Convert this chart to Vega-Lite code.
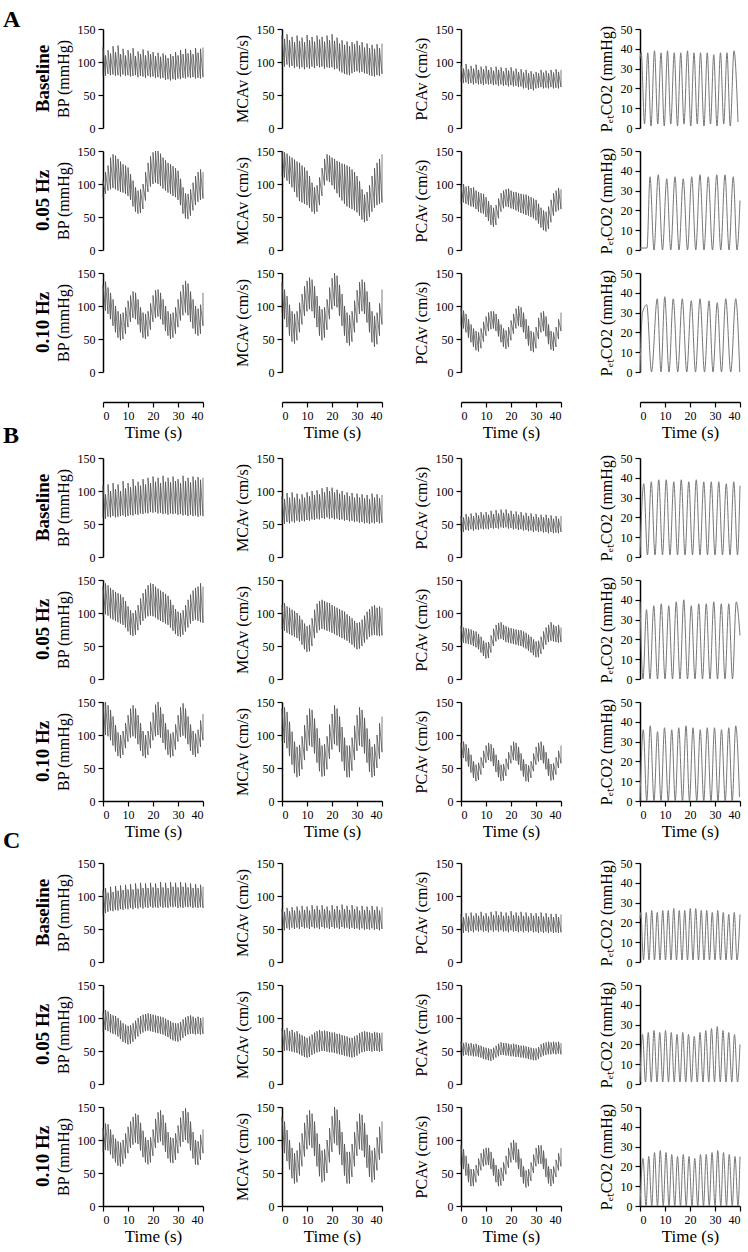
{
"$schema":"https://vega.github.io/schema/vega-lite/v6.json",
"padding":{"left":3,"top":0,"right":5,"bottom":5},
"background":"white",
"config":{"font":"Liberation Serif","view":{"stroke":null},
"axis":{"grid":false,"domainColor":"#000","tickColor":"#000","domainWidth":1.5,"tickWidth":1.2,"tickSize":5,"labelFontSize":12,"labelColor":"#000","labelPadding":3,"titleFontSize":16,"titleFontWeight":"normal","titleColor":"#000","titlePadding":6},
"axisX":{"titleFontSize":17,"titleFontWeight":400,"titlePadding":3,"labelFontSize":12},
"axisY":{"titleFontSize":16,"titleFontWeight":"normal","titlePadding":6,"labelFontSize":12},
"style":{"guide-title":{"fontSize":16,"fontWeight":"normal","font":"Liberation Serif","fill":"#000"},"guide-label":{"fontSize":12,"font":"Liberation Serif","fill":"#000"},"group-title":{"fontSize":19,"fontWeight":"bold","font":"Liberation Serif","fill":"#000"}},
"title":{"font":"Liberation Serif","fontSize":19,"fontWeight":"bold","color":"#000"}},
"datasets":{
"A0":[{"t":0,"a":80,"b":122,"c":95,"d":140,"e":70,"f":95},{"t":1,"a":79,"b":110,"c":93,"d":135,"e":68,"f":90},{"t":2,"a":82,"b":118,"c":96,"d":142,"e":69,"f":97},{"t":3,"a":80,"b":113,"c":92,"d":133,"e":67,"f":89},{"t":4,"a":81,"b":124,"c":94,"d":138,"e":68,"f":94},{"t":5,"a":79,"b":115,"c":91,"d":130,"e":66,"f":90},{"t":6,"a":80,"b":125,"c":93,"d":140,"e":68,"f":96},{"t":7,"a":78,"b":112,"c":90,"d":132,"e":66,"f":88},{"t":8,"a":81,"b":120,"c":92,"d":137,"e":67,"f":93},{"t":9,"a":79,"b":110,"c":89,"d":130,"e":65,"f":89},{"t":10,"a":80,"b":118,"c":92,"d":141,"e":67,"f":94},{"t":11,"a":78,"b":113,"c":90,"d":133,"e":66,"f":88},{"t":12,"a":79,"b":121,"c":93,"d":138,"e":67,"f":92},{"t":13,"a":80,"b":109,"c":91,"d":131,"e":65,"f":87},{"t":14,"a":77,"b":116,"c":94,"d":140,"e":66,"f":93},{"t":15,"a":79,"b":112,"c":92,"d":134,"e":64,"f":88},{"t":16,"a":78,"b":119,"c":93,"d":138,"e":66,"f":92},{"t":17,"a":76,"b":110,"c":90,"d":131,"e":64,"f":86},{"t":18,"a":79,"b":117,"c":92,"d":140,"e":65,"f":91},{"t":19,"a":77,"b":112,"c":91,"d":133,"e":63,"f":87},{"t":20,"a":78,"b":115,"c":92,"d":142,"e":65,"f":92},{"t":21,"a":76,"b":109,"c":89,"d":132,"e":63,"f":86},{"t":22,"a":77,"b":114,"c":90,"d":137,"e":64,"f":90},{"t":23,"a":75,"b":108,"c":86,"d":128,"e":62,"f":85},{"t":24,"a":76,"b":113,"c":84,"d":133,"e":63,"f":89},{"t":25,"a":73,"b":110,"c":82,"d":126,"e":60,"f":84},{"t":26,"a":74,"b":106,"c":81,"d":131,"e":61,"f":88},{"t":27,"a":72,"b":112,"c":80,"d":124,"e":58,"f":83},{"t":28,"a":74,"b":109,"c":83,"d":130,"e":59,"f":86},{"t":29,"a":73,"b":115,"c":85,"d":127,"e":57,"f":82},{"t":30,"a":75,"b":110,"c":86,"d":132,"e":60,"f":85},{"t":31,"a":74,"b":118,"c":84,"d":125,"e":61,"f":83},{"t":32,"a":76,"b":112,"c":85,"d":130,"e":62,"f":88},{"t":33,"a":75,"b":120,"c":83,"d":122,"e":60,"f":84},{"t":34,"a":77,"b":113,"c":82,"d":128,"e":61,"f":87},{"t":35,"a":76,"b":118,"c":80,"d":121,"e":60,"f":83},{"t":36,"a":77,"b":112,"c":79,"d":126,"e":62,"f":88},{"t":37,"a":75,"b":121,"c":78,"d":120,"e":60,"f":84},{"t":38,"a":76,"b":114,"c":80,"d":127,"e":61,"f":89},{"t":39,"a":75,"b":120,"c":79,"d":121,"e":60,"f":85},{"t":40,"a":77,"b":122,"c":82,"d":128,"e":62,"f":88}],
"A1":[{"t":0,"a":78,"b":105,"c":112,"d":150,"e":70,"f":98},{"t":1,"a":85,"b":118,"c":110,"d":148,"e":72,"f":100},{"t":2,"a":90,"b":128,"c":105,"d":146,"e":70,"f":96},{"t":3,"a":92,"b":140,"c":100,"d":142,"e":68,"f":97},{"t":4,"a":94,"b":145,"c":95,"d":140,"e":66,"f":94},{"t":5,"a":92,"b":143,"c":88,"d":137,"e":65,"f":95},{"t":6,"a":90,"b":138,"c":80,"d":134,"e":62,"f":90},{"t":7,"a":88,"b":134,"c":74,"d":132,"e":58,"f":88},{"t":8,"a":87,"b":130,"c":72,"d":128,"e":56,"f":86},{"t":9,"a":85,"b":128,"c":70,"d":125,"e":55,"f":85},{"t":10,"a":82,"b":125,"c":68,"d":120,"e":50,"f":80},{"t":11,"a":76,"b":115,"c":64,"d":112,"e":44,"f":74},{"t":12,"a":66,"b":105,"c":58,"d":102,"e":38,"f":68},{"t":13,"a":58,"b":95,"c":55,"d":95,"e":35,"f":64},{"t":14,"a":55,"b":90,"c":58,"d":98,"e":38,"f":68},{"t":15,"a":56,"b":92,"c":68,"d":110,"e":48,"f":78},{"t":16,"a":62,"b":100,"c":82,"d":124,"e":58,"f":86},{"t":17,"a":75,"b":118,"c":98,"d":138,"e":63,"f":90},{"t":18,"a":88,"b":132,"c":105,"d":145,"e":66,"f":92},{"t":19,"a":96,"b":142,"c":103,"d":143,"e":65,"f":93},{"t":20,"a":100,"b":148,"c":98,"d":140,"e":63,"f":90},{"t":21,"a":102,"b":150,"c":92,"d":138,"e":62,"f":88},{"t":22,"a":100,"b":150,"c":86,"d":135,"e":60,"f":88},{"t":23,"a":97,"b":146,"c":80,"d":133,"e":58,"f":86},{"t":24,"a":93,"b":140,"c":75,"d":131,"e":56,"f":85},{"t":25,"a":90,"b":136,"c":70,"d":130,"e":55,"f":84},{"t":26,"a":87,"b":132,"c":66,"d":128,"e":53,"f":84},{"t":27,"a":85,"b":130,"c":64,"d":126,"e":52,"f":82},{"t":28,"a":82,"b":127,"c":62,"d":122,"e":50,"f":80},{"t":29,"a":80,"b":124,"c":60,"d":118,"e":48,"f":78},{"t":30,"a":76,"b":120,"c":57,"d":112,"e":45,"f":76},{"t":31,"a":68,"b":108,"c":52,"d":104,"e":40,"f":70},{"t":32,"a":55,"b":95,"c":46,"d":92,"e":34,"f":64},{"t":33,"a":48,"b":86,"c":42,"d":84,"e":30,"f":60},{"t":34,"a":47,"b":85,"c":44,"d":88,"e":28,"f":58},{"t":35,"a":52,"b":92,"c":50,"d":98,"e":32,"f":66},{"t":36,"a":60,"b":102,"c":58,"d":112,"e":42,"f":76},{"t":37,"a":68,"b":112,"c":64,"d":124,"e":52,"f":86},{"t":38,"a":73,"b":118,"c":68,"d":132,"e":58,"f":90},{"t":39,"a":76,"b":122,"c":70,"d":138,"e":60,"f":94},{"t":40,"a":78,"b":118,"c":72,"d":145,"e":62,"f":92}],
"A2":[{"t":0,"a":95,"b":132,"c":90,"d":135,"e":70,"f":97},{"t":1,"a":93,"b":137,"c":80,"d":125,"e":66,"f":93},{"t":2,"a":88,"b":128,"c":68,"d":115,"e":60,"f":88},{"t":3,"a":80,"b":120,"c":55,"d":102,"e":52,"f":80},{"t":4,"a":70,"b":110,"c":46,"d":92,"e":45,"f":72},{"t":5,"a":60,"b":100,"c":43,"d":88,"e":38,"f":66},{"t":6,"a":52,"b":92,"c":48,"d":92,"e":33,"f":62},{"t":7,"a":48,"b":88,"c":60,"d":105,"e":31,"f":60},{"t":8,"a":50,"b":90,"c":72,"d":118,"e":36,"f":66},{"t":9,"a":58,"b":98,"c":85,"d":130,"e":46,"f":76},{"t":10,"a":68,"b":108,"c":92,"d":138,"e":55,"f":84},{"t":11,"a":76,"b":116,"c":95,"d":143,"e":62,"f":90},{"t":12,"a":82,"b":122,"c":92,"d":140,"e":65,"f":92},{"t":13,"a":80,"b":120,"c":82,"d":130,"e":66,"f":92},{"t":14,"a":72,"b":110,"c":68,"d":115,"e":62,"f":88},{"t":15,"a":60,"b":98,"c":55,"d":100,"e":54,"f":80},{"t":16,"a":52,"b":90,"c":48,"d":95,"e":45,"f":72},{"t":17,"a":50,"b":88,"c":52,"d":98,"e":38,"f":66},{"t":18,"a":54,"b":92,"c":64,"d":110,"e":35,"f":63},{"t":19,"a":64,"b":104,"c":80,"d":128,"e":38,"f":68},{"t":20,"a":76,"b":116,"c":95,"d":142,"e":48,"f":78},{"t":21,"a":82,"b":124,"c":100,"d":150,"e":58,"f":88},{"t":22,"a":84,"b":125,"c":98,"d":146,"e":66,"f":96},{"t":23,"a":80,"b":120,"c":85,"d":132,"e":70,"f":100},{"t":24,"a":72,"b":110,"c":70,"d":118,"e":68,"f":98},{"t":25,"a":62,"b":100,"c":55,"d":100,"e":60,"f":90},{"t":26,"a":55,"b":92,"c":44,"d":90,"e":50,"f":80},{"t":27,"a":50,"b":88,"c":40,"d":86,"e":40,"f":70},{"t":28,"a":52,"b":90,"c":46,"d":92,"e":32,"f":62},{"t":29,"a":58,"b":98,"c":60,"d":108,"e":30,"f":60},{"t":30,"a":68,"b":110,"c":75,"d":124,"e":36,"f":68},{"t":31,"a":78,"b":122,"c":88,"d":136,"e":50,"f":82},{"t":32,"a":86,"b":132,"c":92,"d":140,"e":60,"f":90},{"t":33,"a":90,"b":138,"c":88,"d":136,"e":62,"f":92},{"t":34,"a":86,"b":134,"c":75,"d":122,"e":54,"f":84},{"t":35,"a":76,"b":122,"c":60,"d":106,"e":42,"f":72},{"t":36,"a":66,"b":110,"c":45,"d":92,"e":34,"f":62},{"t":37,"a":58,"b":100,"c":38,"d":85,"e":32,"f":60},{"t":38,"a":55,"b":96,"c":42,"d":90,"e":38,"f":68},{"t":39,"a":58,"b":102,"c":55,"d":104,"e":50,"f":80},{"t":40,"a":70,"b":120,"c":72,"d":125,"e":62,"f":90}],
"B0":[{"t":0,"a":60,"b":108,"c":52,"d":92,"e":40,"f":62},{"t":1,"a":58,"b":95,"c":50,"d":88,"e":38,"f":60},{"t":2,"a":61,"b":110,"c":53,"d":97,"e":41,"f":65},{"t":3,"a":60,"b":100,"c":51,"d":90,"e":40,"f":61},{"t":4,"a":62,"b":112,"c":54,"d":98,"e":42,"f":66},{"t":5,"a":60,"b":103,"c":52,"d":90,"e":40,"f":62},{"t":6,"a":61,"b":110,"c":55,"d":96,"e":42,"f":67},{"t":7,"a":62,"b":100,"c":53,"d":88,"e":41,"f":63},{"t":8,"a":63,"b":115,"c":55,"d":95,"e":43,"f":68},{"t":9,"a":61,"b":104,"c":54,"d":90,"e":42,"f":64},{"t":10,"a":62,"b":112,"c":56,"d":98,"e":43,"f":68},{"t":11,"a":64,"b":106,"c":55,"d":92,"e":42,"f":64},{"t":12,"a":63,"b":118,"c":57,"d":100,"e":44,"f":70},{"t":13,"a":65,"b":108,"c":56,"d":94,"e":43,"f":65},{"t":14,"a":64,"b":114,"c":58,"d":101,"e":44,"f":71},{"t":15,"a":66,"b":108,"c":57,"d":95,"e":43,"f":66},{"t":16,"a":65,"b":118,"c":59,"d":104,"e":45,"f":72},{"t":17,"a":67,"b":110,"c":58,"d":98,"e":44,"f":67},{"t":18,"a":66,"b":120,"c":60,"d":106,"e":45,"f":72},{"t":19,"a":68,"b":112,"c":58,"d":100,"e":43,"f":66},{"t":20,"a":67,"b":122,"c":59,"d":105,"e":44,"f":70},{"t":21,"a":68,"b":114,"c":57,"d":98,"e":42,"f":65},{"t":22,"a":66,"b":120,"c":58,"d":102,"e":43,"f":69},{"t":23,"a":67,"b":112,"c":56,"d":96,"e":41,"f":64},{"t":24,"a":65,"b":123,"c":57,"d":100,"e":42,"f":68},{"t":25,"a":66,"b":114,"c":55,"d":94,"e":40,"f":63},{"t":26,"a":64,"b":120,"c":56,"d":98,"e":41,"f":67},{"t":27,"a":66,"b":113,"c":54,"d":92,"e":39,"f":62},{"t":28,"a":65,"b":122,"c":55,"d":97,"e":40,"f":66},{"t":29,"a":66,"b":115,"c":53,"d":90,"e":38,"f":61},{"t":30,"a":64,"b":118,"c":54,"d":96,"e":40,"f":65},{"t":31,"a":65,"b":112,"c":52,"d":90,"e":38,"f":60},{"t":32,"a":63,"b":123,"c":53,"d":95,"e":39,"f":64},{"t":33,"a":64,"b":115,"c":51,"d":89,"e":37,"f":60},{"t":34,"a":62,"b":120,"c":52,"d":94,"e":38,"f":64},{"t":35,"a":64,"b":113,"c":50,"d":88,"e":36,"f":59},{"t":36,"a":62,"b":122,"c":52,"d":96,"e":38,"f":63},{"t":37,"a":63,"b":116,"c":51,"d":90,"e":36,"f":58},{"t":38,"a":61,"b":121,"c":53,"d":95,"e":37,"f":62},{"t":39,"a":63,"b":117,"c":51,"d":89,"e":36,"f":58},{"t":40,"a":62,"b":120,"c":52,"d":94,"e":38,"f":62}],
"B1":[{"t":0,"a":95,"b":140,"c":75,"d":112,"e":56,"f":80},{"t":1,"a":98,"b":145,"c":73,"d":115,"e":55,"f":78},{"t":2,"a":96,"b":142,"c":70,"d":110,"e":54,"f":77},{"t":3,"a":92,"b":138,"c":68,"d":108,"e":53,"f":76},{"t":4,"a":90,"b":135,"c":66,"d":105,"e":52,"f":75},{"t":5,"a":88,"b":132,"c":64,"d":103,"e":50,"f":73},{"t":6,"a":86,"b":130,"c":62,"d":100,"e":48,"f":72},{"t":7,"a":84,"b":128,"c":58,"d":96,"e":45,"f":68},{"t":8,"a":82,"b":124,"c":52,"d":90,"e":40,"f":64},{"t":9,"a":78,"b":118,"c":45,"d":84,"e":35,"f":58},{"t":10,"a":72,"b":110,"c":41,"d":80,"e":31,"f":55},{"t":11,"a":67,"b":104,"c":42,"d":82,"e":32,"f":56},{"t":12,"a":65,"b":100,"c":50,"d":92,"e":40,"f":66},{"t":13,"a":67,"b":104,"c":62,"d":105,"e":50,"f":76},{"t":14,"a":74,"b":112,"c":70,"d":114,"e":57,"f":82},{"t":15,"a":82,"b":122,"c":74,"d":118,"e":60,"f":85},{"t":16,"a":88,"b":130,"c":76,"d":120,"e":61,"f":86},{"t":17,"a":92,"b":136,"c":75,"d":118,"e":59,"f":82},{"t":18,"a":95,"b":142,"c":73,"d":116,"e":56,"f":80},{"t":19,"a":96,"b":145,"c":72,"d":115,"e":55,"f":78},{"t":20,"a":95,"b":144,"c":70,"d":112,"e":54,"f":77},{"t":21,"a":93,"b":140,"c":68,"d":110,"e":53,"f":76},{"t":22,"a":90,"b":137,"c":66,"d":108,"e":52,"f":75},{"t":23,"a":88,"b":134,"c":64,"d":106,"e":51,"f":74},{"t":24,"a":86,"b":132,"c":62,"d":104,"e":50,"f":74},{"t":25,"a":84,"b":129,"c":60,"d":102,"e":48,"f":72},{"t":26,"a":82,"b":126,"c":58,"d":98,"e":46,"f":70},{"t":27,"a":78,"b":120,"c":55,"d":95,"e":43,"f":67},{"t":28,"a":73,"b":112,"c":52,"d":92,"e":40,"f":64},{"t":29,"a":68,"b":106,"c":48,"d":88,"e":36,"f":60},{"t":30,"a":65,"b":102,"c":45,"d":85,"e":33,"f":57},{"t":31,"a":64,"b":100,"c":46,"d":86,"e":33,"f":58},{"t":32,"a":67,"b":104,"c":50,"d":90,"e":38,"f":64},{"t":33,"a":72,"b":112,"c":55,"d":96,"e":45,"f":72},{"t":34,"a":78,"b":120,"c":60,"d":102,"e":52,"f":78},{"t":35,"a":84,"b":128,"c":64,"d":106,"e":56,"f":82},{"t":36,"a":88,"b":134,"c":66,"d":110,"e":58,"f":86},{"t":37,"a":90,"b":138,"c":67,"d":112,"e":57,"f":82},{"t":38,"a":88,"b":140,"c":66,"d":108,"e":56,"f":80},{"t":39,"a":86,"b":145,"c":65,"d":110,"e":55,"f":82},{"t":40,"a":85,"b":140,"c":66,"d":108,"e":56,"f":78}],
"B2":[{"t":0,"a":98,"b":148,"c":90,"d":140,"e":64,"f":88},{"t":1,"a":100,"b":150,"c":88,"d":142,"e":65,"f":90},{"t":2,"a":98,"b":145,"c":80,"d":135,"e":60,"f":86},{"t":3,"a":92,"b":138,"c":68,"d":120,"e":52,"f":80},{"t":4,"a":84,"b":128,"c":55,"d":105,"e":43,"f":70},{"t":5,"a":75,"b":115,"c":42,"d":90,"e":35,"f":60},{"t":6,"a":68,"b":104,"c":36,"d":82,"e":30,"f":55},{"t":7,"a":65,"b":100,"c":38,"d":85,"e":32,"f":58},{"t":8,"a":70,"b":106,"c":48,"d":98,"e":40,"f":66},{"t":9,"a":80,"b":118,"c":62,"d":115,"e":50,"f":76},{"t":10,"a":90,"b":130,"c":76,"d":130,"e":58,"f":84},{"t":11,"a":96,"b":140,"c":84,"d":140,"e":62,"f":88},{"t":12,"a":98,"b":145,"c":82,"d":138,"e":60,"f":86},{"t":13,"a":95,"b":140,"c":72,"d":125,"e":53,"f":80},{"t":14,"a":86,"b":130,"c":58,"d":110,"e":44,"f":70},{"t":15,"a":76,"b":118,"c":45,"d":95,"e":36,"f":62},{"t":16,"a":68,"b":106,"c":37,"d":84,"e":30,"f":55},{"t":17,"a":65,"b":100,"c":38,"d":86,"e":31,"f":56},{"t":18,"a":70,"b":106,"c":48,"d":98,"e":38,"f":64},{"t":19,"a":80,"b":120,"c":64,"d":116,"e":48,"f":74},{"t":20,"a":92,"b":134,"c":78,"d":132,"e":57,"f":84},{"t":21,"a":98,"b":146,"c":86,"d":145,"e":62,"f":90},{"t":22,"a":100,"b":150,"c":84,"d":140,"e":61,"f":88},{"t":23,"a":96,"b":142,"c":74,"d":128,"e":55,"f":82},{"t":24,"a":88,"b":132,"c":60,"d":112,"e":46,"f":72},{"t":25,"a":78,"b":118,"c":46,"d":96,"e":37,"f":63},{"t":26,"a":70,"b":108,"c":36,"d":84,"e":30,"f":56},{"t":27,"a":66,"b":102,"c":36,"d":84,"e":29,"f":54},{"t":28,"a":68,"b":104,"c":46,"d":96,"e":35,"f":60},{"t":29,"a":78,"b":116,"c":62,"d":114,"e":45,"f":72},{"t":30,"a":90,"b":130,"c":76,"d":130,"e":55,"f":82},{"t":31,"a":97,"b":142,"c":84,"d":142,"e":60,"f":88},{"t":32,"a":99,"b":148,"c":82,"d":138,"e":62,"f":90},{"t":33,"a":95,"b":140,"c":72,"d":126,"e":57,"f":84},{"t":34,"a":86,"b":128,"c":58,"d":110,"e":48,"f":74},{"t":35,"a":76,"b":116,"c":44,"d":94,"e":38,"f":64},{"t":36,"a":70,"b":106,"c":36,"d":82,"e":31,"f":56},{"t":37,"a":67,"b":102,"c":38,"d":86,"e":32,"f":57},{"t":38,"a":72,"b":108,"c":50,"d":100,"e":40,"f":66},{"t":39,"a":82,"b":122,"c":64,"d":118,"e":50,"f":76},{"t":40,"a":92,"b":132,"c":74,"d":128,"e":57,"f":84}],
"C0":[{"t":0,"a":70,"b":108,"c":50,"d":80,"e":46,"f":72},{"t":1,"a":74,"b":112,"c":48,"d":76,"e":44,"f":68},{"t":2,"a":76,"b":105,"c":51,"d":82,"e":47,"f":74},{"t":3,"a":78,"b":114,"c":49,"d":77,"e":45,"f":69},{"t":4,"a":77,"b":106,"c":52,"d":83,"e":47,"f":75},{"t":5,"a":79,"b":115,"c":50,"d":78,"e":45,"f":70},{"t":6,"a":78,"b":108,"c":52,"d":84,"e":48,"f":74},{"t":7,"a":80,"b":116,"c":50,"d":78,"e":46,"f":70},{"t":8,"a":79,"b":109,"c":53,"d":85,"e":48,"f":76},{"t":9,"a":81,"b":117,"c":51,"d":79,"e":46,"f":70},{"t":10,"a":80,"b":110,"c":52,"d":84,"e":47,"f":74},{"t":11,"a":82,"b":118,"c":50,"d":78,"e":45,"f":69},{"t":12,"a":80,"b":110,"c":53,"d":86,"e":48,"f":76},{"t":13,"a":82,"b":119,"c":51,"d":80,"e":46,"f":71},{"t":14,"a":81,"b":111,"c":52,"d":85,"e":48,"f":77},{"t":15,"a":83,"b":120,"c":50,"d":79,"e":46,"f":71},{"t":16,"a":81,"b":112,"c":53,"d":86,"e":48,"f":76},{"t":17,"a":83,"b":119,"c":51,"d":80,"e":46,"f":70},{"t":18,"a":82,"b":112,"c":52,"d":84,"e":47,"f":75},{"t":19,"a":84,"b":120,"c":50,"d":78,"e":45,"f":70},{"t":20,"a":82,"b":113,"c":53,"d":86,"e":48,"f":77},{"t":21,"a":83,"b":119,"c":51,"d":80,"e":46,"f":71},{"t":22,"a":82,"b":112,"c":52,"d":85,"e":47,"f":75},{"t":23,"a":84,"b":121,"c":50,"d":79,"e":45,"f":70},{"t":24,"a":82,"b":113,"c":53,"d":87,"e":47,"f":76},{"t":25,"a":83,"b":120,"c":51,"d":80,"e":45,"f":70},{"t":26,"a":82,"b":112,"c":52,"d":85,"e":47,"f":75},{"t":27,"a":84,"b":121,"c":50,"d":79,"e":45,"f":69},{"t":28,"a":83,"b":114,"c":52,"d":86,"e":47,"f":74},{"t":29,"a":84,"b":120,"c":50,"d":80,"e":45,"f":70},{"t":30,"a":82,"b":113,"c":51,"d":84,"e":46,"f":74},{"t":31,"a":83,"b":121,"c":49,"d":78,"e":44,"f":69},{"t":32,"a":82,"b":114,"c":51,"d":85,"e":46,"f":75},{"t":33,"a":84,"b":120,"c":49,"d":79,"e":44,"f":69},{"t":34,"a":83,"b":113,"c":50,"d":84,"e":46,"f":74},{"t":35,"a":84,"b":119,"c":49,"d":78,"e":44,"f":68},{"t":36,"a":82,"b":112,"c":51,"d":85,"e":46,"f":73},{"t":37,"a":83,"b":118,"c":49,"d":79,"e":44,"f":68},{"t":38,"a":82,"b":112,"c":50,"d":84,"e":45,"f":73},{"t":39,"a":83,"b":117,"c":48,"d":78,"e":44,"f":68},{"t":40,"a":82,"b":114,"c":50,"d":83,"e":45,"f":72}],
"C1":[{"t":0,"a":80,"b":108,"c":52,"d":84,"e":44,"f":64},{"t":1,"a":82,"b":112,"c":50,"d":82,"e":43,"f":62},{"t":2,"a":80,"b":110,"c":51,"d":85,"e":44,"f":63},{"t":3,"a":78,"b":106,"c":50,"d":80,"e":43,"f":61},{"t":4,"a":76,"b":104,"c":49,"d":82,"e":43,"f":62},{"t":5,"a":75,"b":103,"c":48,"d":78,"e":42,"f":60},{"t":6,"a":72,"b":100,"c":47,"d":80,"e":42,"f":61},{"t":7,"a":68,"b":96,"c":45,"d":76,"e":41,"f":59},{"t":8,"a":64,"b":92,"c":43,"d":74,"e":40,"f":58},{"t":9,"a":62,"b":90,"c":41,"d":72,"e":38,"f":56},{"t":10,"a":60,"b":88,"c":40,"d":70,"e":37,"f":55},{"t":11,"a":61,"b":89,"c":41,"d":72,"e":36,"f":54},{"t":12,"a":64,"b":92,"c":44,"d":75,"e":35,"f":53},{"t":13,"a":68,"b":96,"c":46,"d":78,"e":37,"f":55},{"t":14,"a":72,"b":100,"c":48,"d":80,"e":40,"f":58},{"t":15,"a":76,"b":103,"c":49,"d":82,"e":42,"f":61},{"t":16,"a":78,"b":105,"c":50,"d":80,"e":44,"f":63},{"t":17,"a":80,"b":106,"c":50,"d":81,"e":44,"f":62},{"t":18,"a":81,"b":107,"c":49,"d":80,"e":43,"f":62},{"t":19,"a":80,"b":106,"c":48,"d":79,"e":43,"f":61},{"t":20,"a":79,"b":105,"c":48,"d":78,"e":42,"f":60},{"t":21,"a":78,"b":104,"c":47,"d":78,"e":42,"f":61},{"t":22,"a":77,"b":103,"c":46,"d":76,"e":41,"f":60},{"t":23,"a":76,"b":102,"c":45,"d":76,"e":41,"f":59},{"t":24,"a":75,"b":101,"c":44,"d":74,"e":40,"f":58},{"t":25,"a":73,"b":99,"c":43,"d":73,"e":40,"f":58},{"t":26,"a":71,"b":97,"c":42,"d":72,"e":39,"f":57},{"t":27,"a":68,"b":95,"c":41,"d":70,"e":38,"f":56},{"t":28,"a":66,"b":93,"c":40,"d":70,"e":37,"f":55},{"t":29,"a":65,"b":92,"c":41,"d":72,"e":36,"f":54},{"t":30,"a":64,"b":92,"c":43,"d":74,"e":36,"f":54},{"t":31,"a":66,"b":94,"c":46,"d":77,"e":38,"f":56},{"t":32,"a":70,"b":98,"c":48,"d":79,"e":41,"f":60},{"t":33,"a":73,"b":101,"c":49,"d":80,"e":43,"f":62},{"t":34,"a":75,"b":103,"c":50,"d":79,"e":44,"f":63},{"t":35,"a":76,"b":104,"c":50,"d":78,"e":45,"f":64},{"t":36,"a":76,"b":102,"c":49,"d":77,"e":45,"f":63},{"t":37,"a":75,"b":100,"c":50,"d":79,"e":46,"f":64},{"t":38,"a":76,"b":102,"c":50,"d":78,"e":45,"f":63},{"t":39,"a":75,"b":100,"c":49,"d":77,"e":46,"f":64},{"t":40,"a":76,"b":101,"c":50,"d":78,"e":45,"f":62}],
"C2":[{"t":0,"a":82,"b":118,"c":88,"d":135,"e":62,"f":92},{"t":1,"a":85,"b":125,"c":80,"d":128,"e":56,"f":86},{"t":2,"a":84,"b":124,"c":68,"d":115,"e":46,"f":76},{"t":3,"a":78,"b":116,"c":55,"d":100,"e":36,"f":64},{"t":4,"a":72,"b":108,"c":42,"d":88,"e":30,"f":56},{"t":5,"a":66,"b":102,"c":34,"d":80,"e":30,"f":56},{"t":6,"a":61,"b":98,"c":36,"d":84,"e":36,"f":62},{"t":7,"a":60,"b":96,"c":46,"d":96,"e":46,"f":72},{"t":8,"a":64,"b":100,"c":60,"d":110,"e":54,"f":80},{"t":9,"a":72,"b":110,"c":75,"d":126,"e":60,"f":86},{"t":10,"a":80,"b":120,"c":86,"d":138,"e":62,"f":88},{"t":11,"a":88,"b":128,"c":92,"d":145,"e":62,"f":88},{"t":12,"a":93,"b":135,"c":88,"d":140,"e":56,"f":82},{"t":13,"a":96,"b":140,"c":76,"d":128,"e":46,"f":72},{"t":14,"a":94,"b":138,"c":60,"d":110,"e":36,"f":62},{"t":15,"a":84,"b":126,"c":45,"d":94,"e":30,"f":56},{"t":16,"a":74,"b":114,"c":36,"d":84,"e":31,"f":58},{"t":17,"a":66,"b":104,"c":38,"d":86,"e":38,"f":66},{"t":18,"a":63,"b":100,"c":50,"d":100,"e":48,"f":76},{"t":19,"a":66,"b":104,"c":66,"d":118,"e":58,"f":88},{"t":20,"a":76,"b":116,"c":82,"d":136,"e":66,"f":96},{"t":21,"a":88,"b":132,"c":95,"d":150,"e":70,"f":100},{"t":22,"a":96,"b":142,"c":92,"d":146,"e":66,"f":96},{"t":23,"a":98,"b":145,"c":78,"d":130,"e":56,"f":86},{"t":24,"a":92,"b":138,"c":62,"d":112,"e":44,"f":72},{"t":25,"a":82,"b":126,"c":46,"d":94,"e":34,"f":60},{"t":26,"a":72,"b":112,"c":34,"d":82,"e":28,"f":54},{"t":27,"a":66,"b":104,"c":34,"d":82,"e":30,"f":56},{"t":28,"a":65,"b":103,"c":44,"d":94,"e":38,"f":66},{"t":29,"a":70,"b":110,"c":60,"d":112,"e":50,"f":78},{"t":30,"a":80,"b":122,"c":76,"d":128,"e":60,"f":88},{"t":31,"a":90,"b":134,"c":86,"d":140,"e":64,"f":92},{"t":32,"a":97,"b":144,"c":84,"d":138,"e":64,"f":92},{"t":33,"a":100,"b":148,"c":74,"d":126,"e":56,"f":84},{"t":34,"a":95,"b":142,"c":58,"d":108,"e":44,"f":72},{"t":35,"a":84,"b":128,"c":44,"d":92,"e":34,"f":60},{"t":36,"a":72,"b":112,"c":36,"d":84,"e":30,"f":56},{"t":37,"a":63,"b":100,"c":40,"d":88,"e":34,"f":60},{"t":38,"a":62,"b":98,"c":54,"d":104,"e":44,"f":70},{"t":39,"a":70,"b":108,"c":70,"d":120,"e":54,"f":80},{"t":40,"a":80,"b":116,"c":80,"d":128,"e":60,"f":88}],
"pA0":[{"t":0,"v":35},{"t":0.5,"v":38},{"t":1.8,"v":2},{"t":3.1,"v":38},{"t":4.4,"v":1},{"t":5.8,"v":39},{"t":7.1,"v":2},{"t":8.4,"v":38},{"t":9.7,"v":1},{"t":11,"v":39},{"t":12.3,"v":2},{"t":13.7,"v":38},{"t":15,"v":1},{"t":16.3,"v":38},{"t":17.6,"v":2},{"t":19,"v":39},{"t":20.3,"v":1},{"t":21.6,"v":38},{"t":22.9,"v":2},{"t":24.2,"v":38},{"t":25.6,"v":1},{"t":26.9,"v":38},{"t":28.2,"v":2},{"t":29.5,"v":37},{"t":30.8,"v":1},{"t":32.2,"v":38},{"t":33.5,"v":2},{"t":34.8,"v":38},{"t":36.1,"v":1},{"t":37.6,"v":39},{"t":39.2,"v":3}],
"pA1":[{"t":0,"v":1},{"t":2.8,"v":1},{"t":4,"v":37},{"t":5.6,"v":0},{"t":7.3,"v":38},{"t":9,"v":0},{"t":10.7,"v":36},{"t":12.3,"v":0},{"t":14,"v":37},{"t":15.6,"v":0},{"t":17.3,"v":36},{"t":19,"v":0},{"t":20.7,"v":37},{"t":22.3,"v":0},{"t":24,"v":38},{"t":25.6,"v":0},{"t":27.3,"v":37},{"t":29,"v":0},{"t":30.7,"v":38},{"t":32.3,"v":0},{"t":34,"v":38},{"t":35.6,"v":0},{"t":37.3,"v":37},{"t":38.8,"v":0},{"t":40,"v":25}],
"pA2":[{"t":0,"v":0},{"t":1,"v":30},{"t":2.7,"v":34},{"t":4.6,"v":0},{"t":6.9,"v":37},{"t":8.4,"v":0},{"t":9.9,"v":38},{"t":11.6,"v":0},{"t":13.3,"v":37},{"t":15.1,"v":0},{"t":16.9,"v":37},{"t":18.7,"v":0},{"t":20.5,"v":36},{"t":22.2,"v":0},{"t":24,"v":37},{"t":25.8,"v":0},{"t":27.6,"v":36},{"t":29.2,"v":0},{"t":30.9,"v":35},{"t":32.6,"v":0},{"t":34.3,"v":37},{"t":36.3,"v":0},{"t":38.3,"v":37},{"t":39.9,"v":0}],
"pB0":[{"t":0,"v":1},{"t":1.5,"v":37},{"t":3,"v":1},{"t":4.5,"v":38},{"t":6,"v":1},{"t":7.5,"v":39},{"t":9,"v":1},{"t":10.5,"v":39},{"t":12,"v":1},{"t":13.5,"v":38},{"t":15,"v":1},{"t":16.5,"v":39},{"t":18,"v":1},{"t":19.5,"v":38},{"t":21,"v":1},{"t":22.5,"v":39},{"t":24,"v":1},{"t":25.5,"v":38},{"t":27,"v":1},{"t":28.5,"v":38},{"t":30,"v":1},{"t":31.5,"v":38},{"t":33,"v":1},{"t":34.5,"v":37},{"t":36,"v":1},{"t":37.5,"v":38},{"t":39,"v":1},{"t":40,"v":36}],
"pB1":[{"t":0,"v":39},{"t":1.2,"v":0},{"t":2.6,"v":35},{"t":4,"v":0},{"t":5.5,"v":37},{"t":7,"v":0},{"t":8.5,"v":38},{"t":10,"v":0},{"t":11.5,"v":37},{"t":13,"v":0},{"t":14.5,"v":39},{"t":16,"v":0},{"t":17.5,"v":40},{"t":19,"v":0},{"t":20.5,"v":37},{"t":22,"v":0},{"t":23.5,"v":38},{"t":25,"v":0},{"t":26.5,"v":38},{"t":28,"v":0},{"t":29.5,"v":39},{"t":31,"v":0},{"t":32.5,"v":38},{"t":34,"v":0},{"t":35.5,"v":38},{"t":37,"v":0},{"t":38.5,"v":39},{"t":40,"v":22}],
"pB2":[{"t":0,"v":0},{"t":1.3,"v":36},{"t":2.7,"v":0},{"t":4.1,"v":38},{"t":5.6,"v":0},{"t":7,"v":35},{"t":8.4,"v":0},{"t":9.8,"v":37},{"t":11.3,"v":0},{"t":12.7,"v":36},{"t":14.1,"v":0},{"t":15.5,"v":37},{"t":17,"v":0},{"t":18.4,"v":38},{"t":19.8,"v":0},{"t":21.2,"v":37},{"t":22.7,"v":0},{"t":24.1,"v":36},{"t":25.5,"v":0},{"t":26.9,"v":37},{"t":28.4,"v":0},{"t":29.8,"v":37},{"t":31.2,"v":0},{"t":32.6,"v":36},{"t":34.1,"v":0},{"t":35.5,"v":37},{"t":36.9,"v":0},{"t":38.3,"v":38},{"t":39.8,"v":2}],
"pC0":[{"t":0,"v":22},{"t":0.3,"v":25},{"t":1.4,"v":1},{"t":2.5,"v":25},{"t":3.6,"v":1},{"t":4.7,"v":26},{"t":5.8,"v":1},{"t":6.9,"v":25},{"t":8,"v":1},{"t":9.1,"v":26},{"t":10.2,"v":1},{"t":11.3,"v":26},{"t":12.4,"v":1},{"t":13.5,"v":27},{"t":14.6,"v":1},{"t":15.7,"v":26},{"t":16.8,"v":1},{"t":17.9,"v":26},{"t":19,"v":1},{"t":20.1,"v":27},{"t":21.2,"v":1},{"t":22.3,"v":27},{"t":23.4,"v":1},{"t":24.5,"v":26},{"t":25.6,"v":1},{"t":26.7,"v":26},{"t":27.8,"v":1},{"t":28.9,"v":25},{"t":30,"v":1},{"t":31.1,"v":26},{"t":32.2,"v":1},{"t":33.3,"v":25},{"t":34.4,"v":1},{"t":35.5,"v":24},{"t":36.6,"v":1},{"t":37.7,"v":25},{"t":38.8,"v":1},{"t":40,"v":24}],
"pC1":[{"t":0,"v":1},{"t":1,"v":25},{"t":2.2,"v":1},{"t":3.3,"v":26},{"t":4.5,"v":1},{"t":5.6,"v":27},{"t":6.8,"v":1},{"t":7.9,"v":26},{"t":9.1,"v":1},{"t":10.2,"v":27},{"t":11.4,"v":1},{"t":12.5,"v":26},{"t":13.7,"v":1},{"t":14.8,"v":25},{"t":16,"v":1},{"t":17.1,"v":26},{"t":18.3,"v":1},{"t":19.4,"v":25},{"t":20.6,"v":1},{"t":21.7,"v":24},{"t":22.9,"v":1},{"t":24,"v":26},{"t":25.2,"v":1},{"t":26.3,"v":27},{"t":27.5,"v":1},{"t":28.6,"v":28},{"t":29.8,"v":1},{"t":30.9,"v":29},{"t":32.1,"v":1},{"t":33.2,"v":27},{"t":34.4,"v":1},{"t":35.5,"v":26},{"t":36.7,"v":1},{"t":37.8,"v":25},{"t":39,"v":1},{"t":40,"v":20}],
"pC2":[{"t":0,"v":0},{"t":1.2,"v":24},{"t":2.4,"v":0},{"t":3.5,"v":25},{"t":4.7,"v":0},{"t":5.8,"v":27},{"t":7,"v":0},{"t":8.1,"v":28},{"t":9.3,"v":0},{"t":10.4,"v":27},{"t":11.6,"v":0},{"t":12.7,"v":26},{"t":13.9,"v":0},{"t":15,"v":25},{"t":16.2,"v":0},{"t":17.3,"v":26},{"t":18.5,"v":0},{"t":19.6,"v":25},{"t":20.8,"v":0},{"t":21.9,"v":24},{"t":23.1,"v":0},{"t":24.2,"v":26},{"t":25.4,"v":0},{"t":26.5,"v":26},{"t":27.7,"v":0},{"t":28.8,"v":27},{"t":30,"v":0},{"t":31.1,"v":28},{"t":32.3,"v":0},{"t":33.4,"v":27},{"t":34.6,"v":0},{"t":35.7,"v":26},{"t":36.9,"v":0},{"t":38,"v":25},{"t":39.2,"v":0},{"t":40,"v":25}]
},
"columns":4,
"spacing":{"row":23,"column":79},
"bounds":"flush",
"concat":[
{"width":100,"height":6,"data":{"values":[]},"mark":"point","title":{"text":"A","orient":"bottom","anchor":"start","frame":"group","dx":-100,"offset":2,"fontSize":24}},
{"width":100,"height":6,"data":{"values":[]},"mark":"point"},
{"width":100,"height":6,"data":{"values":[]},"mark":"point"},
{"width":100,"height":6,"data":{"values":[]},"mark":"point"},

{"width":100,"height":99,"data":{"name":"A0"},"transform":[{"fold":["a","b"],"as":["k","v"]}],"mark":{"type":"line","stroke":"#444","strokeWidth":0.7},"encoding":{"x":{"field":"t","type":"quantitative","scale":{"domain":[0,40]},"axis":null},"y":{"field":"v","type":"quantitative","scale":{"domain":[0,150]},"axis":{"title":"BP (mmHg)","values":[0,50,100,150]}},"order":{"value":null}},"title":{"text":"Baseline","orient":"left","anchor":"middle","offset":2}},
{"width":100,"height":99,"data":{"name":"A0"},"transform":[{"fold":["c","d"],"as":["k","v"]}],"mark":{"type":"line","stroke":"#444","strokeWidth":0.7},"encoding":{"x":{"field":"t","type":"quantitative","scale":{"domain":[0,40]},"axis":null},"y":{"field":"v","type":"quantitative","scale":{"domain":[0,150]},"axis":{"title":"MCAv (cm/s)","values":[0,50,100,150]}},"order":{"value":null}}},
{"width":100,"height":99,"data":{"name":"A0"},"transform":[{"fold":["e","f"],"as":["k","v"]}],"mark":{"type":"line","stroke":"#444","strokeWidth":0.7},"encoding":{"x":{"field":"t","type":"quantitative","scale":{"domain":[0,40]},"axis":null},"y":{"field":"v","type":"quantitative","scale":{"domain":[0,150]},"axis":{"title":"PCAv (cm/s)","values":[0,50,100,150]}},"order":{"value":null}}},
{"width":100,"height":99,"data":{"name":"pA0"},"mark":{"type":"line","stroke":"#777","strokeWidth":1,"interpolate":"monotone"},"encoding":{"x":{"field":"t","type":"quantitative","scale":{"domain":[0,40]},"axis":null},"y":{"field":"v","type":"quantitative","scale":{"domain":[0,50]},"axis":{"title":"PₑₜCO2 (mmHg)","values":[0,10,20,30,40,50]}}}},

{"width":100,"height":99,"data":{"name":"A1"},"transform":[{"fold":["a","b"],"as":["k","v"]}],"mark":{"type":"line","stroke":"#444","strokeWidth":0.7},"encoding":{"x":{"field":"t","type":"quantitative","scale":{"domain":[0,40]},"axis":null},"y":{"field":"v","type":"quantitative","scale":{"domain":[0,150]},"axis":{"title":"BP (mmHg)","values":[0,50,100,150]}},"order":{"value":null}},"title":{"text":"0.05 Hz","orient":"left","anchor":"middle","offset":2}},
{"width":100,"height":99,"data":{"name":"A1"},"transform":[{"fold":["c","d"],"as":["k","v"]}],"mark":{"type":"line","stroke":"#444","strokeWidth":0.7},"encoding":{"x":{"field":"t","type":"quantitative","scale":{"domain":[0,40]},"axis":null},"y":{"field":"v","type":"quantitative","scale":{"domain":[0,150]},"axis":{"title":"MCAv (cm/s)","values":[0,50,100,150]}},"order":{"value":null}}},
{"width":100,"height":99,"data":{"name":"A1"},"transform":[{"fold":["e","f"],"as":["k","v"]}],"mark":{"type":"line","stroke":"#444","strokeWidth":0.7},"encoding":{"x":{"field":"t","type":"quantitative","scale":{"domain":[0,40]},"axis":null},"y":{"field":"v","type":"quantitative","scale":{"domain":[0,150]},"axis":{"title":"PCAv (cm/s)","values":[0,50,100,150]}},"order":{"value":null}}},
{"width":100,"height":99,"data":{"name":"pA1"},"mark":{"type":"line","stroke":"#777","strokeWidth":1,"interpolate":"monotone"},"encoding":{"x":{"field":"t","type":"quantitative","scale":{"domain":[0,40]},"axis":null},"y":{"field":"v","type":"quantitative","scale":{"domain":[0,50]},"axis":{"title":"PₑₜCO2 (mmHg)","values":[0,10,20,30,40,50]}}}},

{"width":100,"height":99,"data":{"name":"A2"},"transform":[{"fold":["a","b"],"as":["k","v"]}],"mark":{"type":"line","stroke":"#444","strokeWidth":0.7},"encoding":{"x":{"field":"t","type":"quantitative","scale":{"domain":[0,40]},"axis":{"title":"Time (s)","values":[0,10,20,30,40],"offset":30,"titleFontWeight":400}},"y":{"field":"v","type":"quantitative","scale":{"domain":[0,150]},"axis":{"title":"BP (mmHg)","values":[0,50,100,150]}},"order":{"value":null}},"title":{"text":"0.10 Hz","orient":"left","anchor":"middle","offset":2}},
{"width":100,"height":99,"data":{"name":"A2"},"transform":[{"fold":["c","d"],"as":["k","v"]}],"mark":{"type":"line","stroke":"#444","strokeWidth":0.7},"encoding":{"x":{"field":"t","type":"quantitative","scale":{"domain":[0,40]},"axis":{"title":"Time (s)","values":[0,10,20,30,40],"offset":30,"titleFontWeight":400}},"y":{"field":"v","type":"quantitative","scale":{"domain":[0,150]},"axis":{"title":"MCAv (cm/s)","values":[0,50,100,150]}},"order":{"value":null}}},
{"width":100,"height":99,"data":{"name":"A2"},"transform":[{"fold":["e","f"],"as":["k","v"]}],"mark":{"type":"line","stroke":"#444","strokeWidth":0.7},"encoding":{"x":{"field":"t","type":"quantitative","scale":{"domain":[0,40]},"axis":{"title":"Time (s)","values":[0,10,20,30,40],"offset":30,"titleFontWeight":400}},"y":{"field":"v","type":"quantitative","scale":{"domain":[0,150]},"axis":{"title":"PCAv (cm/s)","values":[0,50,100,150]}},"order":{"value":null}}},
{"width":100,"height":99,"data":{"name":"pA2"},"mark":{"type":"line","stroke":"#777","strokeWidth":1,"interpolate":"monotone"},"encoding":{"x":{"field":"t","type":"quantitative","scale":{"domain":[0,40]},"axis":{"title":"Time (s)","values":[0,10,20,30,40],"offset":30,"titleFontWeight":400}},"y":{"field":"v","type":"quantitative","scale":{"domain":[0,50]},"axis":{"title":"PₑₜCO2 (mmHg)","values":[0,10,20,30,40,50]}}}},

{"width":100,"height":40,"data":{"values":[]},"mark":"point","title":{"text":"B","orient":"bottom","anchor":"start","frame":"group","dx":-100,"offset":-11,"fontSize":24}},
{"width":100,"height":40,"data":{"values":[]},"mark":"point"},
{"width":100,"height":40,"data":{"values":[]},"mark":"point"},
{"width":100,"height":40,"data":{"values":[]},"mark":"point"},

{"width":100,"height":99,"data":{"name":"B0"},"transform":[{"fold":["a","b"],"as":["k","v"]}],"mark":{"type":"line","stroke":"#444","strokeWidth":0.7},"encoding":{"x":{"field":"t","type":"quantitative","scale":{"domain":[0,40]},"axis":null},"y":{"field":"v","type":"quantitative","scale":{"domain":[0,150]},"axis":{"title":"BP (mmHg)","values":[0,50,100,150]}},"order":{"value":null}},"title":{"text":"Baseline","orient":"left","anchor":"middle","offset":2}},
{"width":100,"height":99,"data":{"name":"B0"},"transform":[{"fold":["c","d"],"as":["k","v"]}],"mark":{"type":"line","stroke":"#444","strokeWidth":0.7},"encoding":{"x":{"field":"t","type":"quantitative","scale":{"domain":[0,40]},"axis":null},"y":{"field":"v","type":"quantitative","scale":{"domain":[0,150]},"axis":{"title":"MCAv (cm/s)","values":[0,50,100,150]}},"order":{"value":null}}},
{"width":100,"height":99,"data":{"name":"B0"},"transform":[{"fold":["e","f"],"as":["k","v"]}],"mark":{"type":"line","stroke":"#444","strokeWidth":0.7},"encoding":{"x":{"field":"t","type":"quantitative","scale":{"domain":[0,40]},"axis":null},"y":{"field":"v","type":"quantitative","scale":{"domain":[0,150]},"axis":{"title":"PCAv (cm/s)","values":[0,50,100,150]}},"order":{"value":null}}},
{"width":100,"height":99,"data":{"name":"pB0"},"mark":{"type":"line","stroke":"#777","strokeWidth":1,"interpolate":"monotone"},"encoding":{"x":{"field":"t","type":"quantitative","scale":{"domain":[0,40]},"axis":null},"y":{"field":"v","type":"quantitative","scale":{"domain":[0,50]},"axis":{"title":"PₑₜCO2 (mmHg)","values":[0,10,20,30,40,50]}}}},

{"width":100,"height":99,"data":{"name":"B1"},"transform":[{"fold":["a","b"],"as":["k","v"]}],"mark":{"type":"line","stroke":"#444","strokeWidth":0.7},"encoding":{"x":{"field":"t","type":"quantitative","scale":{"domain":[0,40]},"axis":null},"y":{"field":"v","type":"quantitative","scale":{"domain":[0,150]},"axis":{"title":"BP (mmHg)","values":[0,50,100,150]}},"order":{"value":null}},"title":{"text":"0.05 Hz","orient":"left","anchor":"middle","offset":2}},
{"width":100,"height":99,"data":{"name":"B1"},"transform":[{"fold":["c","d"],"as":["k","v"]}],"mark":{"type":"line","stroke":"#444","strokeWidth":0.7},"encoding":{"x":{"field":"t","type":"quantitative","scale":{"domain":[0,40]},"axis":null},"y":{"field":"v","type":"quantitative","scale":{"domain":[0,150]},"axis":{"title":"MCAv (cm/s)","values":[0,50,100,150]}},"order":{"value":null}}},
{"width":100,"height":99,"data":{"name":"B1"},"transform":[{"fold":["e","f"],"as":["k","v"]}],"mark":{"type":"line","stroke":"#444","strokeWidth":0.7},"encoding":{"x":{"field":"t","type":"quantitative","scale":{"domain":[0,40]},"axis":null},"y":{"field":"v","type":"quantitative","scale":{"domain":[0,150]},"axis":{"title":"PCAv (cm/s)","values":[0,50,100,150]}},"order":{"value":null}}},
{"width":100,"height":99,"data":{"name":"pB1"},"mark":{"type":"line","stroke":"#777","strokeWidth":1,"interpolate":"monotone"},"encoding":{"x":{"field":"t","type":"quantitative","scale":{"domain":[0,40]},"axis":null},"y":{"field":"v","type":"quantitative","scale":{"domain":[0,50]},"axis":{"title":"PₑₜCO2 (mmHg)","values":[0,10,20,30,40,50]}}}},

{"width":100,"height":99,"data":{"name":"B2"},"transform":[{"fold":["a","b"],"as":["k","v"]}],"mark":{"type":"line","stroke":"#444","strokeWidth":0.7},"encoding":{"x":{"field":"t","type":"quantitative","scale":{"domain":[0,40]},"axis":{"title":"Time (s)","values":[0,10,20,30,40],"titleFontWeight":400}},"y":{"field":"v","type":"quantitative","scale":{"domain":[0,150]},"axis":{"title":"BP (mmHg)","values":[0,50,100,150]}},"order":{"value":null}},"title":{"text":"0.10 Hz","orient":"left","anchor":"middle","offset":2}},
{"width":100,"height":99,"data":{"name":"B2"},"transform":[{"fold":["c","d"],"as":["k","v"]}],"mark":{"type":"line","stroke":"#444","strokeWidth":0.7},"encoding":{"x":{"field":"t","type":"quantitative","scale":{"domain":[0,40]},"axis":{"title":"Time (s)","values":[0,10,20,30,40],"titleFontWeight":400}},"y":{"field":"v","type":"quantitative","scale":{"domain":[0,150]},"axis":{"title":"MCAv (cm/s)","values":[0,50,100,150]}},"order":{"value":null}}},
{"width":100,"height":99,"data":{"name":"B2"},"transform":[{"fold":["e","f"],"as":["k","v"]}],"mark":{"type":"line","stroke":"#444","strokeWidth":0.7},"encoding":{"x":{"field":"t","type":"quantitative","scale":{"domain":[0,40]},"axis":{"title":"Time (s)","values":[0,10,20,30,40],"titleFontWeight":400}},"y":{"field":"v","type":"quantitative","scale":{"domain":[0,150]},"axis":{"title":"PCAv (cm/s)","values":[0,50,100,150]}},"order":{"value":null}}},
{"width":100,"height":99,"data":{"name":"pB2"},"mark":{"type":"line","stroke":"#777","strokeWidth":1,"interpolate":"monotone"},"encoding":{"x":{"field":"t","type":"quantitative","scale":{"domain":[0,40]},"axis":{"title":"Time (s)","values":[0,10,20,30,40],"titleFontWeight":400}},"y":{"field":"v","type":"quantitative","scale":{"domain":[0,50]},"axis":{"title":"PₑₜCO2 (mmHg)","values":[0,10,20,30,40,50]}}}},

{"width":100,"height":16,"data":{"values":[]},"mark":"point","title":{"text":"C","orient":"bottom","anchor":"start","frame":"group","dx":-100,"offset":-11,"fontSize":24}},
{"width":100,"height":16,"data":{"values":[]},"mark":"point"},
{"width":100,"height":16,"data":{"values":[]},"mark":"point"},
{"width":100,"height":16,"data":{"values":[]},"mark":"point"},

{"width":100,"height":99,"data":{"name":"C0"},"transform":[{"fold":["a","b"],"as":["k","v"]}],"mark":{"type":"line","stroke":"#444","strokeWidth":0.7},"encoding":{"x":{"field":"t","type":"quantitative","scale":{"domain":[0,40]},"axis":null},"y":{"field":"v","type":"quantitative","scale":{"domain":[0,150]},"axis":{"title":"BP (mmHg)","values":[0,50,100,150]}},"order":{"value":null}},"title":{"text":"Baseline","orient":"left","anchor":"middle","offset":2}},
{"width":100,"height":99,"data":{"name":"C0"},"transform":[{"fold":["c","d"],"as":["k","v"]}],"mark":{"type":"line","stroke":"#444","strokeWidth":0.7},"encoding":{"x":{"field":"t","type":"quantitative","scale":{"domain":[0,40]},"axis":null},"y":{"field":"v","type":"quantitative","scale":{"domain":[0,150]},"axis":{"title":"MCAv (cm/s)","values":[0,50,100,150]}},"order":{"value":null}}},
{"width":100,"height":99,"data":{"name":"C0"},"transform":[{"fold":["e","f"],"as":["k","v"]}],"mark":{"type":"line","stroke":"#444","strokeWidth":0.7},"encoding":{"x":{"field":"t","type":"quantitative","scale":{"domain":[0,40]},"axis":null},"y":{"field":"v","type":"quantitative","scale":{"domain":[0,150]},"axis":{"title":"PCAv (cm/s)","values":[0,50,100,150]}},"order":{"value":null}}},
{"width":100,"height":99,"data":{"name":"pC0"},"mark":{"type":"line","stroke":"#777","strokeWidth":1,"interpolate":"monotone"},"encoding":{"x":{"field":"t","type":"quantitative","scale":{"domain":[0,40]},"axis":null},"y":{"field":"v","type":"quantitative","scale":{"domain":[0,50]},"axis":{"title":"PₑₜCO2 (mmHg)","values":[0,10,20,30,40,50]}}}},

{"width":100,"height":99,"data":{"name":"C1"},"transform":[{"fold":["a","b"],"as":["k","v"]}],"mark":{"type":"line","stroke":"#444","strokeWidth":0.7},"encoding":{"x":{"field":"t","type":"quantitative","scale":{"domain":[0,40]},"axis":null},"y":{"field":"v","type":"quantitative","scale":{"domain":[0,150]},"axis":{"title":"BP (mmHg)","values":[0,50,100,150]}},"order":{"value":null}},"title":{"text":"0.05 Hz","orient":"left","anchor":"middle","offset":2}},
{"width":100,"height":99,"data":{"name":"C1"},"transform":[{"fold":["c","d"],"as":["k","v"]}],"mark":{"type":"line","stroke":"#444","strokeWidth":0.7},"encoding":{"x":{"field":"t","type":"quantitative","scale":{"domain":[0,40]},"axis":null},"y":{"field":"v","type":"quantitative","scale":{"domain":[0,150]},"axis":{"title":"MCAv (cm/s)","values":[0,50,100,150]}},"order":{"value":null}}},
{"width":100,"height":99,"data":{"name":"C1"},"transform":[{"fold":["e","f"],"as":["k","v"]}],"mark":{"type":"line","stroke":"#444","strokeWidth":0.7},"encoding":{"x":{"field":"t","type":"quantitative","scale":{"domain":[0,40]},"axis":null},"y":{"field":"v","type":"quantitative","scale":{"domain":[0,150]},"axis":{"title":"PCAv (cm/s)","values":[0,50,100,150]}},"order":{"value":null}}},
{"width":100,"height":99,"data":{"name":"pC1"},"mark":{"type":"line","stroke":"#777","strokeWidth":1,"interpolate":"monotone"},"encoding":{"x":{"field":"t","type":"quantitative","scale":{"domain":[0,40]},"axis":null},"y":{"field":"v","type":"quantitative","scale":{"domain":[0,50]},"axis":{"title":"PₑₜCO2 (mmHg)","values":[0,10,20,30,40,50]}}}},

{"width":100,"height":99,"data":{"name":"C2"},"transform":[{"fold":["a","b"],"as":["k","v"]}],"mark":{"type":"line","stroke":"#444","strokeWidth":0.7},"encoding":{"x":{"field":"t","type":"quantitative","scale":{"domain":[0,40]},"axis":{"title":"Time (s)","values":[0,10,20,30,40],"titleFontWeight":400}},"y":{"field":"v","type":"quantitative","scale":{"domain":[0,150]},"axis":{"title":"BP (mmHg)","values":[0,50,100,150]}},"order":{"value":null}},"title":{"text":"0.10 Hz","orient":"left","anchor":"middle","offset":2}},
{"width":100,"height":99,"data":{"name":"C2"},"transform":[{"fold":["c","d"],"as":["k","v"]}],"mark":{"type":"line","stroke":"#444","strokeWidth":0.7},"encoding":{"x":{"field":"t","type":"quantitative","scale":{"domain":[0,40]},"axis":{"title":"Time (s)","values":[0,10,20,30,40],"titleFontWeight":400}},"y":{"field":"v","type":"quantitative","scale":{"domain":[0,150]},"axis":{"title":"MCAv (cm/s)","values":[0,50,100,150]}},"order":{"value":null}}},
{"width":100,"height":99,"data":{"name":"C2"},"transform":[{"fold":["e","f"],"as":["k","v"]}],"mark":{"type":"line","stroke":"#444","strokeWidth":0.7},"encoding":{"x":{"field":"t","type":"quantitative","scale":{"domain":[0,40]},"axis":{"title":"Time (s)","values":[0,10,20,30,40],"titleFontWeight":400}},"y":{"field":"v","type":"quantitative","scale":{"domain":[0,150]},"axis":{"title":"PCAv (cm/s)","values":[0,50,100,150]}},"order":{"value":null}}},
{"width":100,"height":99,"data":{"name":"pC2"},"mark":{"type":"line","stroke":"#777","strokeWidth":1,"interpolate":"monotone"},"encoding":{"x":{"field":"t","type":"quantitative","scale":{"domain":[0,40]},"axis":{"title":"Time (s)","values":[0,10,20,30,40],"titleFontWeight":400}},"y":{"field":"v","type":"quantitative","scale":{"domain":[0,50]},"axis":{"title":"PₑₜCO2 (mmHg)","values":[0,10,20,30,40,50]}}}}
]
}
